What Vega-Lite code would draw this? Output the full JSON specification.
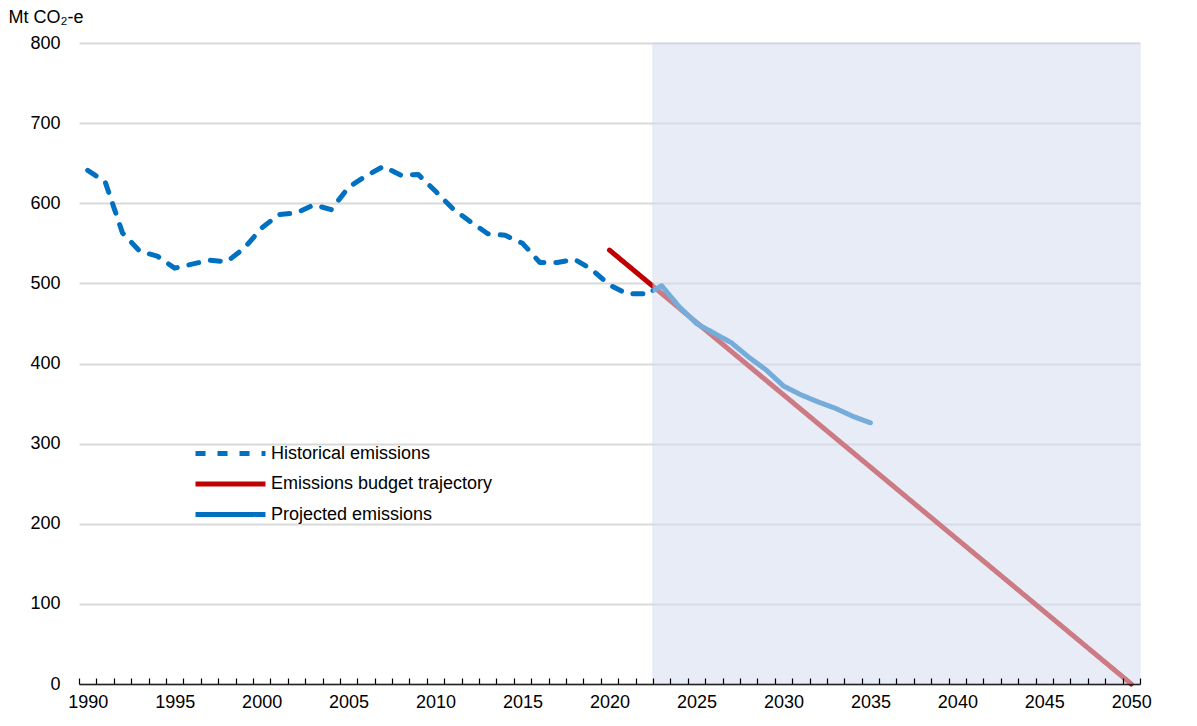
{
  "$schema": "https://vega.github.io/schema/vega-lite/v6.json",
  "width": 1061,
  "height": 641,
  "autosize": "none",
  "padding": {"left": 79, "top": 43, "right": 57, "bottom": 42},
  "background": "white",
  "config": {"view": {"stroke": null}, "font": "Liberation Sans, Arial, sans-serif"},
  "datasets": {
    "lines": [
      {"series": "Historical emissions", "year": 1990, "value": 641},
      {"series": "Historical emissions", "year": 1991, "value": 627},
      {"series": "Historical emissions", "year": 1992, "value": 563},
      {"series": "Historical emissions", "year": 1993, "value": 540},
      {"series": "Historical emissions", "year": 1994, "value": 534},
      {"series": "Historical emissions", "year": 1995, "value": 519},
      {"series": "Historical emissions", "year": 1996, "value": 524},
      {"series": "Historical emissions", "year": 1997, "value": 529},
      {"series": "Historical emissions", "year": 1998, "value": 527},
      {"series": "Historical emissions", "year": 1999, "value": 544},
      {"series": "Historical emissions", "year": 2000, "value": 569},
      {"series": "Historical emissions", "year": 2001, "value": 586},
      {"series": "Historical emissions", "year": 2002, "value": 588},
      {"series": "Historical emissions", "year": 2003, "value": 598},
      {"series": "Historical emissions", "year": 2004, "value": 592},
      {"series": "Historical emissions", "year": 2005, "value": 620},
      {"series": "Historical emissions", "year": 2006, "value": 634},
      {"series": "Historical emissions", "year": 2007, "value": 646},
      {"series": "Historical emissions", "year": 2008, "value": 635},
      {"series": "Historical emissions", "year": 2009, "value": 636},
      {"series": "Historical emissions", "year": 2010, "value": 615},
      {"series": "Historical emissions", "year": 2011, "value": 593},
      {"series": "Historical emissions", "year": 2012, "value": 577},
      {"series": "Historical emissions", "year": 2013, "value": 562},
      {"series": "Historical emissions", "year": 2014, "value": 560},
      {"series": "Historical emissions", "year": 2015, "value": 550},
      {"series": "Historical emissions", "year": 2016, "value": 526},
      {"series": "Historical emissions", "year": 2017, "value": 526},
      {"series": "Historical emissions", "year": 2018, "value": 530},
      {"series": "Historical emissions", "year": 2019, "value": 517},
      {"series": "Historical emissions", "year": 2020, "value": 498},
      {"series": "Historical emissions", "year": 2021, "value": 487},
      {"series": "Historical emissions", "year": 2022, "value": 487},
      {"series": "Historical emissions", "year": 2022.5, "value": 491},
      {"series": "Emissions budget trajectory", "year": 2020, "value": 541.5},
      {"series": "Emissions budget trajectory", "year": 2050, "value": 0},
      {"series": "Projected emissions", "year": 2022.5, "value": 491},
      {"series": "Projected emissions", "year": 2023, "value": 497},
      {"series": "Projected emissions", "year": 2024, "value": 471},
      {"series": "Projected emissions", "year": 2025, "value": 450},
      {"series": "Projected emissions", "year": 2026, "value": 438},
      {"series": "Projected emissions", "year": 2027, "value": 426},
      {"series": "Projected emissions", "year": 2028, "value": 408},
      {"series": "Projected emissions", "year": 2029, "value": 392},
      {"series": "Projected emissions", "year": 2030, "value": 372},
      {"series": "Projected emissions", "year": 2031, "value": 361},
      {"series": "Projected emissions", "year": 2032, "value": 352},
      {"series": "Projected emissions", "year": 2033, "value": 344},
      {"series": "Projected emissions", "year": 2034, "value": 334},
      {"series": "Projected emissions", "year": 2035, "value": 326}
    ],
    "shade": [{"start": 2022.5, "end": 2050.5}]
  },
  "layer": [
    {
      "data": {"name": "lines"},
      "mark": {"type": "line", "strokeWidth": 5, "strokeCap": "round", "strokeJoin": "round"},
      "encoding": {
        "x": {
          "field": "year", "type": "quantitative",
          "scale": {"domain": [1989.5, 2050.5], "nice": false, "zero": false},
          "axis": {
            "values": [1989.5,1990.5,1991.5,1992.5,1993.5,1994.5,1995.5,1996.5,1997.5,1998.5,1999.5,2000.5,2001.5,2002.5,2003.5,2004.5,2005.5,2006.5,2007.5,2008.5,2009.5,2010.5,2011.5,2012.5,2013.5,2014.5,2015.5,2016.5,2017.5,2018.5,2019.5,2020.5,2021.5,2022.5,2023.5,2024.5,2025.5,2026.5,2027.5,2028.5,2029.5,2030.5,2031.5,2032.5,2033.5,2034.5,2035.5,2036.5,2037.5,2038.5,2039.5,2040.5,2041.5,2042.5,2043.5,2044.5,2045.5,2046.5,2047.5,2048.5,2049.5,2050.5],
            "tickCount": 200,
            "labelExpr": "((datum.value + 0.5) % 5 == 0 && datum.value < 2050) ? '' + (datum.value + 0.5) : ''",
            "labelOffset": 8.7,
            "labelFlush": false,
            "labelOverlap": false,
            "labelBound": false,
            "labelFontSize": 18,
            "labelColor": "black",
            "labelPadding": 15,
            "tickSize": -6,
            "tickColor": "black",
            "tickWidth": 1.2,
            "domainColor": "#222222",
            "domainWidth": 1.5,
            "grid": false,
            "title": null,
            "zindex": 1
          }
        },
        "y": {
          "field": "value", "type": "quantitative",
          "scale": {"domain": [0, 800], "nice": false},
          "axis": {
            "values": [0,100,200,300,400,500,600,700,800],
            "grid": true,
            "gridColor": "#D9D9D9",
            "gridWidth": 2,
            "domain": false,
            "ticks": false,
            "tickSize": 0,
            "labelFontSize": 18,
            "labelColor": "black",
            "labelPadding": 19,
            "title": "Mt CO₂-e",
            "titleAngle": 0,
            "titleAlign": "left",
            "titleBaseline": "middle",
            "titleX": -71,
            "titleY": -26,
            "titleFontSize": 18,
            "titleFontWeight": "normal",
            "titleColor": "black"
          }
        },
        "color": {
          "field": "series", "type": "nominal",
          "scale": {"domain": ["Historical emissions", "Emissions budget trajectory", "Projected emissions"], "range": ["#0070C0", "#C00000", "#0070C0"]},
          "legend": {"title": null, "orient": "none", "legendX": 137, "legendY": 396, "symbolType": "M-3,0H3", "symbolSize": 544, "symbolStrokeWidth": 5, "symbolFillColor": "transparent", "labelFontSize": 18, "labelColor": "black", "labelOffset": 26, "labelLimit": 0, "rowPadding": 5.5, "padding": 0}
        },
        "strokeDash": {
          "field": "series", "type": "nominal",
          "scale": {"domain": ["Historical emissions", "Emissions budget trajectory", "Projected emissions"], "range": [[10, 12], [1, 0], [1, 0]]},
          "legend": {"title": null, "orient": "none", "legendX": 137, "legendY": 396, "symbolType": "M-3,0H3", "symbolSize": 544, "symbolStrokeWidth": 5, "symbolFillColor": "transparent", "labelFontSize": 18, "labelColor": "black", "labelOffset": 26, "labelLimit": 0, "rowPadding": 5.5, "padding": 0}
        }
      }
    },
    {
      "data": {"name": "shade"},
      "mark": {"type": "rect", "fill": "#D7DEF0", "opacity": 0.55, "stroke": "#C8D2EA", "strokeWidth": 1},
      "encoding": {
        "x": {"field": "start", "type": "quantitative"},
        "x2": {"field": "end"},
        "y": {"datum": 0, "type": "quantitative"},
        "y2": {"datum": 800}
      }
    }
  ]
}
